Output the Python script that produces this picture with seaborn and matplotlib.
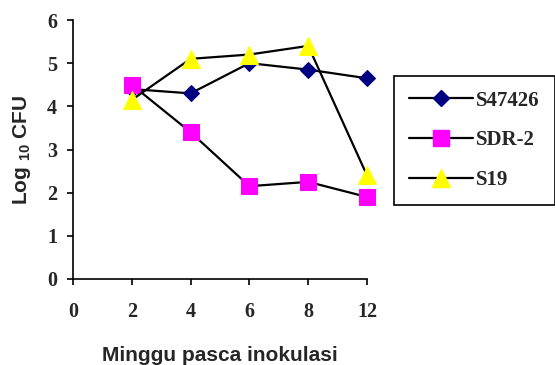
import matplotlib
matplotlib.use("Agg")
import matplotlib.pyplot as plt
import seaborn as sns
import pandas as pd
from matplotlib.lines import Line2D

week_labels = ["0", "2", "4", "6", "8", "12"]
weeks = ["2", "4", "6", "8", "12"]
s47426 = [4.4, 4.3, 5.0, 4.85, 4.65]
sdr2 = [4.5, 3.4, 2.15, 2.25, 1.9]
s19 = [4.15, 5.1, 5.2, 5.4, 2.4]
series_names = ["S47426", "SDR-2", "S19"]

sns.set_style("white")
plt.rcParams["mathtext.fontset"] = "custom"
plt.rcParams["mathtext.bf"] = "Liberation Sans:bold"
plt.rcParams["mathtext.rm"] = "Liberation Sans:bold"

fig = plt.figure(figsize=(5.55, 3.65), dpi=100)
ax = fig.add_axes([73/555, 1-279/365, (367-73)/555, (279-20)/365])

xpos = [week_labels.index(w) for w in weeks]
styles = [
    dict(marker="D", mfc="#000080", mec="#000080", ms=8),
    dict(marker="s", mfc="#FF00FF", mec="#FF00FF", ms=12),
    dict(marker="^", mfc="#FFFF00", mec="#FFFF00", ms=12.5),
]
for vals, st in zip([s47426, sdr2, s19], styles):
    df = pd.DataFrame({"x": xpos, "y": vals})
    sns.lineplot(data=df, x="x", y="y", ax=ax, color="black", lw=1.6,
                 marker=st["marker"], markerfacecolor=st["mfc"],
                 markeredgecolor=st["mec"], markersize=st["ms"], clip_on=False)

ax.set_xlim(0, len(week_labels) - 1)
ax.set_ylim(0, 6)
ax.set_xticks(range(len(week_labels)))
ax.set_xticklabels(week_labels)
ax.set_yticks(range(0, 7))
for lab in ax.get_xticklabels() + ax.get_yticklabels():
    lab.set_fontfamily("Liberation Serif")
    lab.set_fontweight("bold")
    lab.set_fontsize(14.5)
ax.tick_params(axis="both", direction="out", length=4.5, width=1.2, color="black",
               left=True, bottom=True)
ax.tick_params(axis="x", pad=12)
ax.tick_params(axis="y", pad=7)
for s in ["top", "right"]:
    ax.spines[s].set_visible(False)
for s in ["left", "bottom"]:
    ax.spines[s].set_color("black")
    ax.spines[s].set_linewidth(1.2)

ax.set_xlabel("Minggu pasca inokulasi", fontfamily="Liberation Sans",
              fontweight="bold", fontsize=15, labelpad=17)
ax.set_ylabel(r"Log $_{\mathbf{10}}$ CFU", fontfamily="Liberation Sans",
              fontweight="bold", fontsize=15, labelpad=10)

handles = []
for name, st in zip(series_names, styles):
    handles.append(Line2D([0], [0], color="black", lw=1.6, marker=st["marker"],
                          markerfacecolor=st["mfc"], markeredgecolor=st["mec"],
                          markersize=st["ms"]))
leg = fig.legend(handles, series_names, loc="upper left",
                 bbox_to_anchor=(394/555, 1-76/365), frameon=True,
                 fancybox=False, edgecolor="black", framealpha=1,
                 prop={"family": "Liberation Serif", "weight": "bold", "size": 15},
                 handlelength=3.1, handletextpad=0.15, labelspacing=0.95,
                 borderpad=0.7, borderaxespad=0)
leg.get_frame().set_linewidth(1.2)

fig.savefig("out.png", dpi=100)
